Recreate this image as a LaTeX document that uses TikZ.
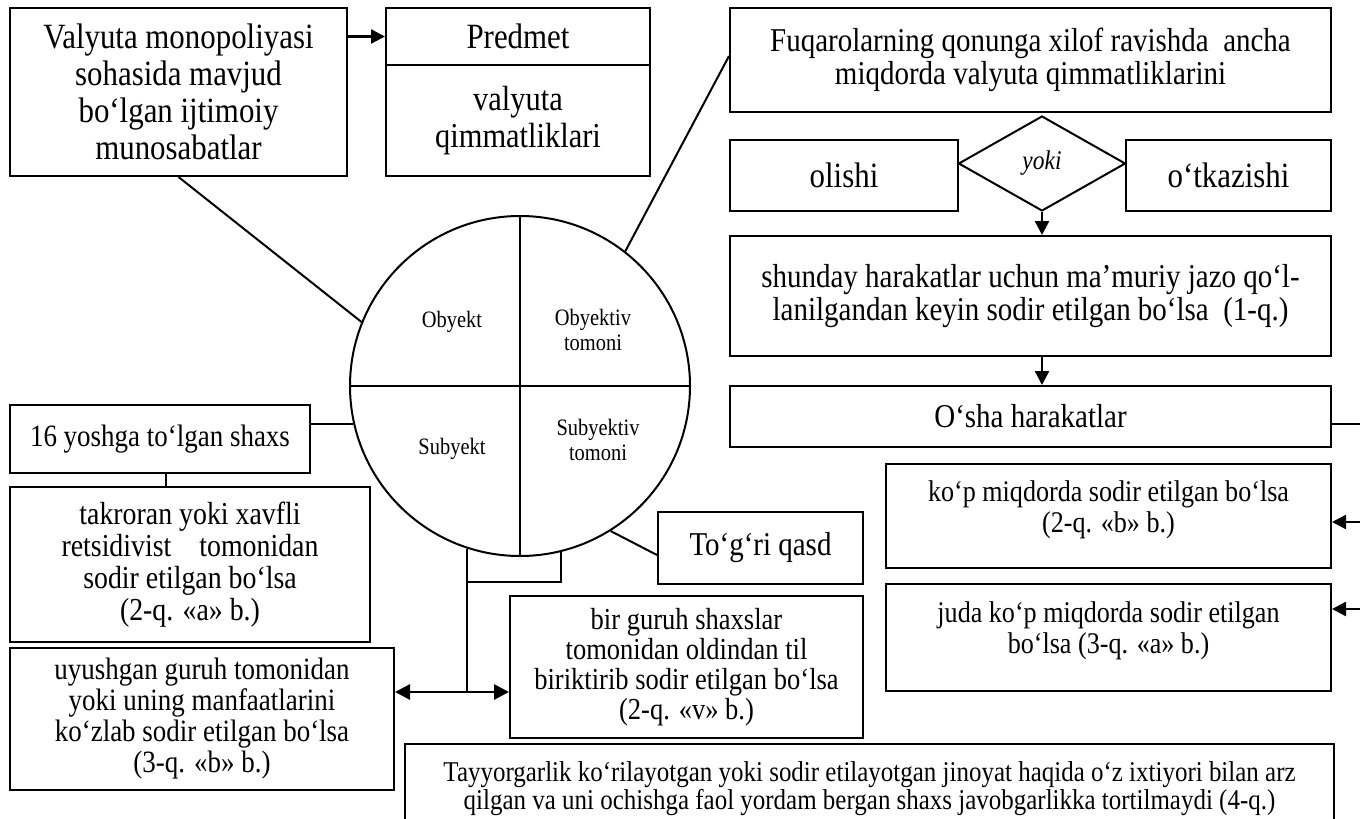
\documentclass[tikz,border=0pt]{standalone}
\usepackage{fontspec}
\setmainfont[FakeStretch=0.87]{Liberation Serif}
\usetikzlibrary{shapes.geometric,arrows.meta}
\newcommand\myfs[2]{\fontsize{#1pt}{#2pt}\selectfont}
\begin{document}
\begin{tikzpicture}[x=1pt,y=-1pt,
  box/.style={draw,line width=2pt,inner sep=0pt,align=center},
  conn/.style={line width=2pt},
  arr/.style={line width=2.4pt,-{Triangle[length=14pt,width=14pt]}},
  darr/.style={line width=2.8pt,{Triangle[length=15pt,width=15pt]}-{Triangle[length=15pt,width=15pt]}},
  lbl/.style={inner sep=0pt,align=center}]
\useasboundingbox (0,0) rectangle (1360,819);
\clip (0,0) rectangle (1360,819);

% top-left
\node[box,minimum width=337pt,minimum height=168pt,font=\myfs{35.5}{37}] (b1) at (178.5,92)
  {Valyuta monopoliyasi\\sohasida mavjud\\bo‘lgan ijtimoiy\\munosabatlar};
\node[box,minimum width=264pt,minimum height=57pt,font=\myfs{35.5}{37}] (predt) at (518,36.5) {Predmet};
\node[box,minimum width=264pt,minimum height=111pt,font=\myfs{35}{37}] (predb) at (518,120.5) {valyuta\\qimmatliklari};

% right column
\node[box,minimum width=601pt,minimum height=104pt,font=\myfs{33.3}{33}] (fuq) at (1030.5,60)
  {Fuqarolarning qonunga xilof ravishda~ ancha\\miqdorda valyuta qimmatliklarini};
\node[box,minimum width=228pt,minimum height=71pt,font=\myfs{35.5}{36}] (ol) at (844,175.5) {olishi};
\node[draw,diamond,line width=2pt,minimum width=167pt,minimum height=95pt,inner sep=0pt,font=\itshape\myfs{27}{28}] (yk) at (1042,163.5) {yoki};
\node[box,minimum width=205pt,minimum height=71pt,font=\myfs{35.5}{36}] (otk) at (1228.5,175.5) {o‘tkazishi};
\node[box,minimum width=601pt,minimum height=120pt,font=\myfs{33.3}{33}] (sh) at (1030.5,296)
  {shunday harakatlar uchun ma’muriy jazo qo‘l-\\lanilgandan keyin sodir etilgan bo‘lsa~ (1-q.)};
\node[box,minimum width=601pt,minimum height=61pt,font=\myfs{33.3}{33}] (osha) at (1030.5,416.5) {O‘sha harakatlar};
\node[box,minimum width=445pt,minimum height=104pt] (kop) at (1108.5,516) {};
\node[lbl,font=\myfs{30}{31}] (kopt) at ([yshift=6pt]kop.center) {ko‘p miqdorda sodir etilgan bo‘lsa\\(2-q. «b» b.)};
\node[box,minimum width=445pt,minimum height=107pt] (juda) at (1108.5,637.5) {};
\node[lbl,font=\myfs{30}{31}] (judat) at ([yshift=7pt]juda.center) {juda ko‘p miqdorda sodir etilgan\\bo‘lsa (3-q. «a» b.)};

% bottom
\node[box,minimum width=929pt,minimum height=90pt,font=\myfs{28.7}{28}] (tay) at (869.5,789)
  {Tayyorgarlik ko‘rilayotgan yoki sodir etilayotgan jinoyat haqida o‘z ixtiyori bilan arz\\qilgan va uni ochishga faol yordam bergan shaxs javobgarlikka tortilmaydi (4-q.)};

% left column
\node[box,minimum width=300pt,minimum height=68pt,font=\myfs{31}{31}] (y16) at (160,439) {16 yoshga to‘lgan shaxs};
\node[box,minimum width=360pt,minimum height=155pt,font=\myfs{32}{32}] (tak) at (190,564.5)
  {takroran yoki xavfli\\retsidivist\hspace*{28pt}tomonidan\\sodir etilgan bo‘lsa\\(2-q. «a» b.)};
\node[box,minimum width=384pt,minimum height=142pt,font=\myfs{31}{31}] (uy) at (202,719)
  {uyushgan guruh tomonidan\\yoki uning manfaatlarini\\ko‘zlab sodir etilgan bo‘lsa\\(3-q. «b» b.)};
\node[box,minimum width=353pt,minimum height=142pt,font=\myfs{30.5}{30}] (bg) at (686.5,667)
  {bir guruh shaxslar\\tomonidan oldindan til\\biriktirib sodir etilgan bo‘lsa\\(2-q. «v» b.)};
\node[box,minimum width=205pt,minimum height=72pt,font=\myfs{33.3}{33}] (tq) at (760.5,548) {To‘g‘ri qasd};

% circle
\node[draw,circle,line width=2pt,minimum size=340pt,inner sep=0pt] (circ) at (520,386) {};
\draw[conn] (circ.north) -- (circ.south);
\draw[conn] (circ.west) -- (circ.east);
\node[lbl,font=\myfs{23.5}{25}] (obj) at (452,322) {Obyekt};
\node[lbl,font=\myfs{23.5}{25}] (objt) at (593,330) {Obyektiv\\tomoni};
\node[lbl,font=\myfs{23.5}{25}] (sub) at (452,449) {Subyekt};
\node[lbl,font=\myfs{23.5}{25}] (subt) at (598,440) {Subyektiv\\tomoni};

% coordinates
\coordinate (arry) at (0,692);
\coordinate (brk) at (0,582);
\coordinate (e1) at (1364,424);
\coordinate (e2) at (1364,522);
\coordinate (e3) at (1364,609);

% connectors
\draw[arr] (predt.west -| b1.east) -- (predt.west);
\draw[conn] (b1.south) -- (circ.158);
\draw[conn] (circ.52) -- ([yshift=4pt]fuq.west);
\draw[arr] (yk.south) -- (yk.south |- sh.north);
\draw[arr] (sh.south -| yk.south) -- (osha.north -| yk.south);
\draw[conn] (osha.east |- e1) -- (e1);
\draw[arr] (e2) -- (e2 -| kop.east);
\draw[arr] (e3) -- (e3 -| juda.east);
\draw[conn] (circ.193) -- (circ.193 -| y16.east);
\draw[conn] ([xshift=6pt]y16.south) -- ([xshift=6pt]y16.south |- tak.north);
\draw[conn] (circ.302) -- ([yshift=-7pt]tq.west);
\draw[conn] (circ.252) -- (circ.252 |- arry);
\draw[conn] (circ.252 |- brk) -| (circ.284);
\draw[darr] (uy.east |- arry) -- (bg.west |- arry);
\end{tikzpicture}
\end{document}
